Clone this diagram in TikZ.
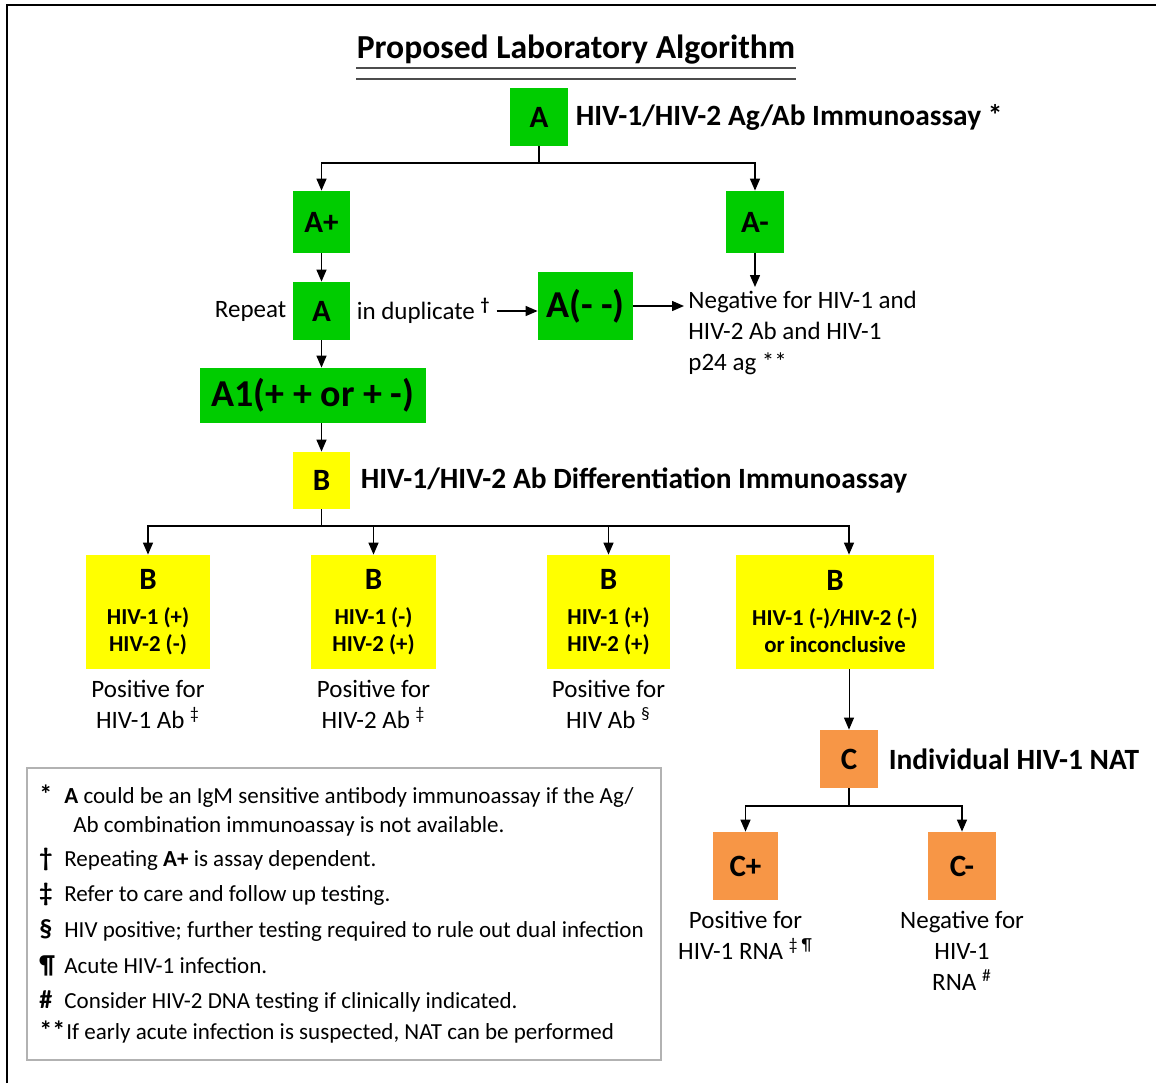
\documentclass[tikz,border=0pt]{standalone}
\usepackage{fontspec}
\setmainfont{Carlito}
\usetikzlibrary{arrows.meta, positioning}
\definecolor{testgreen}{RGB}{0, 204, 0}
\definecolor{testyellow}{RGB}{255, 255, 0}
\definecolor{testorange}{RGB}{247, 150, 70}
\newcommand{\fsz}[2]{\fontsize{#1}{#2}\selectfont}

\begin{document}
\begin{tikzpicture}[
        x=0.5pt, y=-0.5pt,
        box/.style={rectangle, inner sep=0pt, align=center, text=black,
                    font=\bfseries\fsz{15.5}{18}},
        greenbox/.style={box, fill=testgreen},
        yellowbox/.style={box, fill=testyellow},
        orangebox/.style={box, fill=testorange},
        subbox/.style={yellowbox, minimum height=57pt, font=\bfseries\fsz{11.4}{13.5}},
        head/.style={anchor=west, inner sep=0pt, font=\bfseries\fsz{14.7}{17}},
        note/.style={inner sep=0pt, align=center, font=\fsz{12.5}{15.5}},
        legend/.style={anchor=base west, inner sep=0pt, font=\fsz{11.5}{13}},
        arrow/.style={-{Triangle[width=5pt, length=6pt]}, line width=0.7pt},
        link/.style={line width=0.7pt},
    ]
        \useasboundingbox (0,0) rectangle (1156,1083);
        \draw[line width=1.2pt] (7,1083) -- (7,5) -- (1156,5);

        % Title
        \node[inner sep=0pt, font=\bfseries\fsz{16.8}{19}] (title) at (576,50) {Proposed Laboratory Algorithm};
        \draw[link, gray!60!black] ([yshift=-1.5pt]title.south west) -- ([yshift=-1.5pt]title.south east);
        \draw[link, gray!60!black] ([yshift=-7pt]title.south west) -- ([yshift=-7pt]title.south east);

        % Step A
        \node[greenbox, minimum width=29pt, minimum height=29pt] (a) at (539,117) {A};
        \node[head, right=3.5pt of a] (alabel) {HIV-1/HIV-2 Ag/Ab Immunoassay *};
        \node[greenbox, minimum width=28.5pt, minimum height=31pt] (aplus) at (321.5,222) {A+};
        \node[greenbox, minimum width=29pt, minimum height=31pt] (aminus) at (755,222) {A-};
        \node[greenbox, minimum width=28.5pt, minimum height=29pt] (arep) at (321.5,311) {A};
        \node[note, anchor=east, left=3pt of arep] (repeat) {Repeat};
        \node[note, anchor=west, right=3pt of arep] (dup) {in duplicate \textsuperscript{\bfseries †}};
        \node[greenbox, minimum width=47.5pt, minimum height=34pt, font=\bfseries\fsz{19}{22}] (aneg) at (585.5,306) {A(- -)};
        \node[note, align=left, anchor=north west, inner sep=2pt] (negtext) at (684,287)
            {Negative for HIV-1 and\\HIV-2 Ab and HIV-1\\p24 ag **};
        \node[greenbox, minimum width=113pt, minimum height=27.5pt, font=\bfseries\fsz{19}{22}] (a1) at (313,395.5) {A1(+ + or + -)};

        % Step B
        \node[yellowbox, minimum width=28.5pt, minimum height=28.5pt] (b) at (321.5,480.5) {B};
        \node[head, right=5pt of b] (blabel) {HIV-1/HIV-2 Ab Differentiation Immunoassay};
        \node[subbox, minimum width=62pt] (b1) at (148,612)
            {{\fsz{15.5}{18}B}\\[4pt]HIV-1 (+)\\HIV-2 (-)};
        \node[subbox, minimum width=62.5pt] (b2) at (373.5,612)
            {{\fsz{15.5}{18}B}\\[4pt]HIV-1 (-)\\HIV-2 (+)};
        \node[subbox, minimum width=61.5pt] (b3) at (608.5,612)
            {{\fsz{15.5}{18}B}\\[4pt]HIV-1 (+)\\HIV-2 (+)};
        \node[subbox, minimum width=99pt] (b4) at (835,612)
            {{\fsz{15.5}{18}B}\\[4pt]HIV-1 (-)/HIV-2 (-)\\or inconclusive};
        \node[note, below=5pt of b1] (b1text) {Positive for\\HIV-1 Ab \textsuperscript{‡}};
        \node[note, below=5pt of b2] (b2text) {Positive for\\HIV-2 Ab \textsuperscript{‡}};
        \node[note, below=5pt of b3] (b3text) {Positive for\\HIV Ab \textsuperscript{§}};

        % Step C
        \node[orangebox, minimum width=29pt, minimum height=29pt] (c) at (849,759) {C};
        \node[head, right=5pt of c] (clabel) {Individual HIV-1 NAT};
        \node[orangebox, minimum width=32.5pt, minimum height=34pt] (cplus) at (745.5,866) {C+};
        \node[orangebox, minimum width=34pt, minimum height=34pt] (cminus) at (962,866) {C-};
        \node[note, below=5pt of cplus] (cplustext) {Positive for\\HIV-1 RNA \textsuperscript{‡ ¶}};
        \node[note, below=5pt of cminus] (cminustext) {Negative for\\HIV-1\\RNA \textsuperscript{\#}};

        % Connectors
        \coordinate (splitA) at (539,163);
        \coordinate (splitB) at (321.5,526);
        \coordinate (splitC) at (849,806);
        \draw[link] (a) -- (splitA);
        \draw[arrow] (splitA) -| (aplus);
        \draw[arrow] (splitA) -| (aminus);
        \draw[arrow] (aplus) -- (arep);
        \draw[arrow] (aminus) -- (aminus |- negtext.north);
        \draw[arrow] ([xshift=3pt]dup.east) -- (dup.east -| aneg.west);
        \draw[arrow] (aneg.east) -- (aneg.east -| negtext.west);
        \draw[arrow] (arep) -- (arep |- a1.north);
        \draw[arrow] (b |- a1.south) -- (b);
        \draw[link] (b) -- (splitB);
        \draw[arrow] (splitB) -| (b1);
        \draw[arrow] (splitB) -| (b2);
        \draw[arrow] (splitB) -| (b3);
        \draw[arrow] (splitB) -| (b4.north -| c);
        \draw[arrow, line width=0.5pt] (c |- b4.south) -- (c);
        \draw[link] (c) -- (splitC);
        \draw[arrow] (splitC) -| (cplus);
        \draw[arrow] (splitC) -| (cminus);

        % Footnotes
        \node[draw=gray!60, line width=0.8pt, minimum width=317pt, minimum height=146pt] (legendbox) at (344,914) {};
        \foreach \yy/\xx/\sym/\txt [count=\i] in {
                803/64/{*}/{\textbf{A} could be an IgM sensitive antibody immunoassay if the Ag/},
                832/73/{}/{Ab combination immunoassay is not available.},
                866/64/{†}/{Repeating \textbf{A+} is assay dependent.},
                901/64/{‡}/{Refer to care and follow up testing.},
                937/64/{§}/{HIV positive; further testing required to rule out dual infection},
                973/64/{¶}/{Acute HIV-1 infection.},
                1008/64/{\#}/{Consider HIV-2 DNA testing if clinically indicated.},
                1039/66/{**}/{If early acute infection is suspected, NAT can be performed}} {
            \node[legend, font=\bfseries\fsz{13}{15}] (legsym\i) at (39,\yy) {\sym};
            \node[legend] (leg\i) at (\xx,\yy) {\txt};
        }
    \end{tikzpicture}
\end{document}
